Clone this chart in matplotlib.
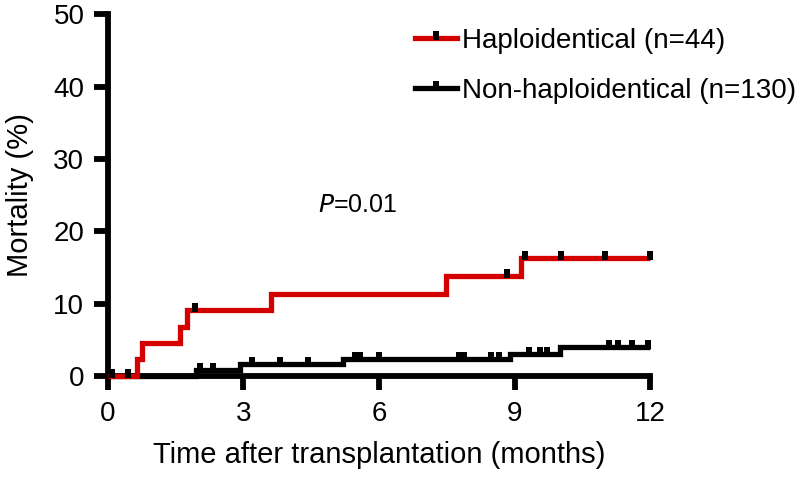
import numpy as np
import matplotlib
matplotlib.use("Agg")
import matplotlib.pyplot as plt
from matplotlib.lines import Line2D

plt.rcParams['font.family'] = ['Liberation Sans', 'DejaVu Sans']

# cumulative mortality (%) step curves
haplo_t = [0, 0.64, 0.75, 1.59, 1.74, 3.62, 7.49, 9.15, 12.0]
haplo_y = [0, 2.3, 4.5, 6.8, 9.1, 11.4, 13.8, 16.3, 16.3]
haplo_cens = [0.1, 0.44, 1.92, 8.84, 9.24, 10.02, 11.0, 12.0]

non_t = [0, 1.94, 2.93, 5.2, 8.9, 10.0, 12.0]
non_y = [0, 0.8, 1.6, 2.3, 3.1, 4.0, 4.0]
non_cens = [2.04, 2.32, 3.19, 3.8, 4.43, 5.46, 5.57, 6.01, 7.77, 7.89,
            8.47, 8.66, 9.32, 9.57, 9.71, 11.1, 11.3, 11.6, 11.96]

labels = ['Haploidentical (n=44)', 'Non-haploidentical (n=130)']
colors = ['#d40000', 'black']

LW = 3.8
SPINE_W = 4.2
# censor tick: small black bar sitting on the line
cens_marker = [(-0.5, -0.3), (0.5, -0.3), (0.5, 1.2), (-0.5, 1.2), (-0.5, -0.3)]
MS = 10.5


def level_at(ts, ys, t):
    i = np.searchsorted(ts, t, side='right') - 1
    return np.array(ys)[i]


fig = plt.figure(figsize=(8.1, 4.8), dpi=100)
ax = fig.add_axes([0.1333, 0.2167, 0.6692, 0.7531])

for ts, ys, cens, c in [(non_t, non_y, non_cens, colors[1]),
                        (haplo_t, haplo_y, haplo_cens, colors[0])]:
    ax.step(ts, ys, where='post', color=c, lw=LW, zorder=3, clip_on=False,
            solid_joinstyle='miter', solid_capstyle='butt')
    ax.plot(cens, level_at(ts, ys, cens), ls='none', marker=cens_marker,
            ms=MS, mfc='black', mec='black', mew=0, zorder=4, clip_on=False)

ax.set_xlim(0, 12)
ax.set_ylim(0, 50)
ax.set_xticks([0, 3, 6, 9, 12])
ax.set_yticks([0, 10, 20, 30, 40, 50])
for s in ['top', 'right']:
    ax.spines[s].set_visible(False)
for s in ['left', 'bottom']:
    ax.spines[s].set_linewidth(SPINE_W)
    ax.spines[s].set_capstyle('projecting')
ax.tick_params(axis='both', width=SPINE_W, length=10, labelsize=20, direction='out')
ax.tick_params(axis='x', pad=8)
ax.tick_params(axis='y', pad=7)

ax.set_xlabel('Time after transplantation (months)', fontsize=21, labelpad=10)
ax.set_ylabel('Mortality (%)', fontsize=21, labelpad=14)

ax.text(5.53, 23.6, r'$\it{P}$=0.01', fontsize=18, ha='center', va='center')

handles = [Line2D([], [], color=c, lw=LW, marker=cens_marker, ms=MS,
                  mfc='black', mec='black', mew=0) for c in colors]
fig.legend(handles, labels, loc='upper left', bbox_to_anchor=(415 / 810, 1 - 28 / 480),
           frameon=False, fontsize=20, handlelength=1.5, handletextpad=0.2,
           labelspacing=0.86, borderpad=0, borderaxespad=0, numpoints=1)

fig.savefig('out.png', dpi=100)
